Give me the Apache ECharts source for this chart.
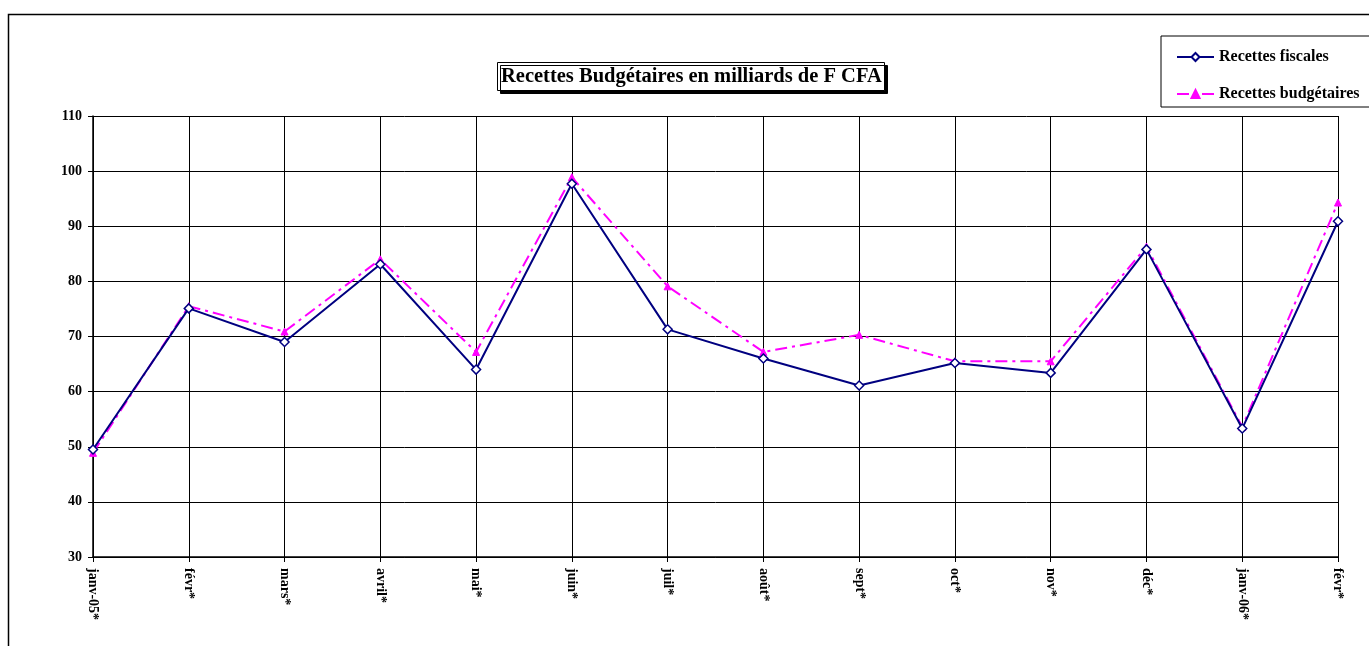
<!DOCTYPE html>
<html>
<head>
<meta charset="utf-8">
<script src="https://cdn.jsdelivr.net/npm/echarts@6/dist/echarts.min.js"></script>
<style>
html,body{margin:0;padding:0;background:#fff;}
#c{width:1369px;height:646px;}
</style>
</head>
<body>
<div id="c"></div>
<script>
var categories = ['janv-05*','févr*','mars*','avril*','mai*','juin*','juil*','août*','sept*','oct*','nov*','déc*','janv-06*','févr*'];
var recettesFiscales = [49.5, 75.1, 69.0, 83.1, 64.0, 97.7, 71.3, 66.0, 61.1, 65.2, 63.4, 85.8, 53.3, 90.9];
var recettesBudgetaires = [48.9, 75.5, 70.9, 84.0, 67.2, 98.9, 79.1, 67.2, 70.3, 65.5, 65.5, 86.3, 53.6, 94.3];
var yTicks = {min: 30, max: 110, interval: 10};

var FONT = '"Liberation Serif", "Times New Roman", serif';
var chart = echarts.init(document.getElementById('c'), null, {renderer: 'canvas'});
chart.setOption({
  animation: false,
  backgroundColor: '#fff',
  textStyle: {fontFamily: FONT},
  title: {
    text: 'Recettes Budgétaires en milliards de F CFA',
    left: 497, top: 63,
    padding: [4, 3, 3, 4],
    backgroundColor: '#fff',
    borderColor: '#000', borderWidth: 1,
    shadowColor: '#000', shadowBlur: 0, shadowOffsetX: 3, shadowOffsetY: 3,
    textStyle: {fontFamily: FONT, fontWeight: 'bold', fontSize: 20.5, color: '#000', lineHeight: 20}
  },
  legend: {
    orient: 'vertical',
    left: 1161, top: 36,
    padding: [13, 60, 5, 15],
    itemWidth: 37, itemHeight: 10, itemGap: 21,
    borderColor: '#000', borderWidth: 1,
    backgroundColor: '#fff',
    textStyle: {fontFamily: FONT, fontWeight: 'bold', fontSize: 16, color: '#000'},
    data: ['Recettes fiscales', 'Recettes budgétaires']
  },
  graphic: [{
    type: 'rect', silent: true, z: -1,
    shape: {x: 8.5, y: 14.5, width: 1400, height: 700},
    style: {fill: 'none', stroke: '#000', lineWidth: 1.5}
  }],
  grid: {left: 93, right: 31, top: 116, bottom: 89, containLabel: false},
  xAxis: {
    type: 'category',
    data: categories,
    boundaryGap: false,
    axisLine: {lineStyle: {color: '#000', width: 1.5}},
    axisTick: {show: true, length: 5, lineStyle: {color: '#000'}},
    splitLine: {show: true, lineStyle: {color: '#000', width: 1}},
    axisLabel: {rotate: -90, margin: 11, fontFamily: FONT, fontWeight: 'bold', fontSize: 14, color: '#000', interval: 0}
  },
  yAxis: {
    type: 'value',
    min: yTicks.min, max: yTicks.max, interval: yTicks.interval,
    axisLine: {show: true, lineStyle: {color: '#000', width: 1.5}},
    axisTick: {show: true, length: 5, lineStyle: {color: '#000'}},
    splitLine: {show: true, lineStyle: {color: '#000', width: 1}},
    axisLabel: {margin: 11, fontFamily: FONT, fontWeight: 'bold', fontSize: 14, color: '#000'}
  },
  series: [{
    name: 'Recettes fiscales',
    type: 'line',
    data: recettesFiscales,
    symbol: 'diamond', symbolSize: 9,
    lineStyle: {color: '#000080', width: 2},
    itemStyle: {color: '#fff', borderColor: '#000080', borderWidth: 1.5},
    z: 3
  }, {
    name: 'Recettes budgétaires',
    type: 'line',
    data: recettesBudgetaires,
    symbol: 'triangle', symbolSize: 7,
    lineStyle: {color: '#ff00ff', width: 2, type: [12, 5, 3, 5]},
    itemStyle: {color: '#ff00ff', borderColor: '#ff00ff', borderWidth: 1},
    z: 2
  }]
});
</script>
</body>
</html>
